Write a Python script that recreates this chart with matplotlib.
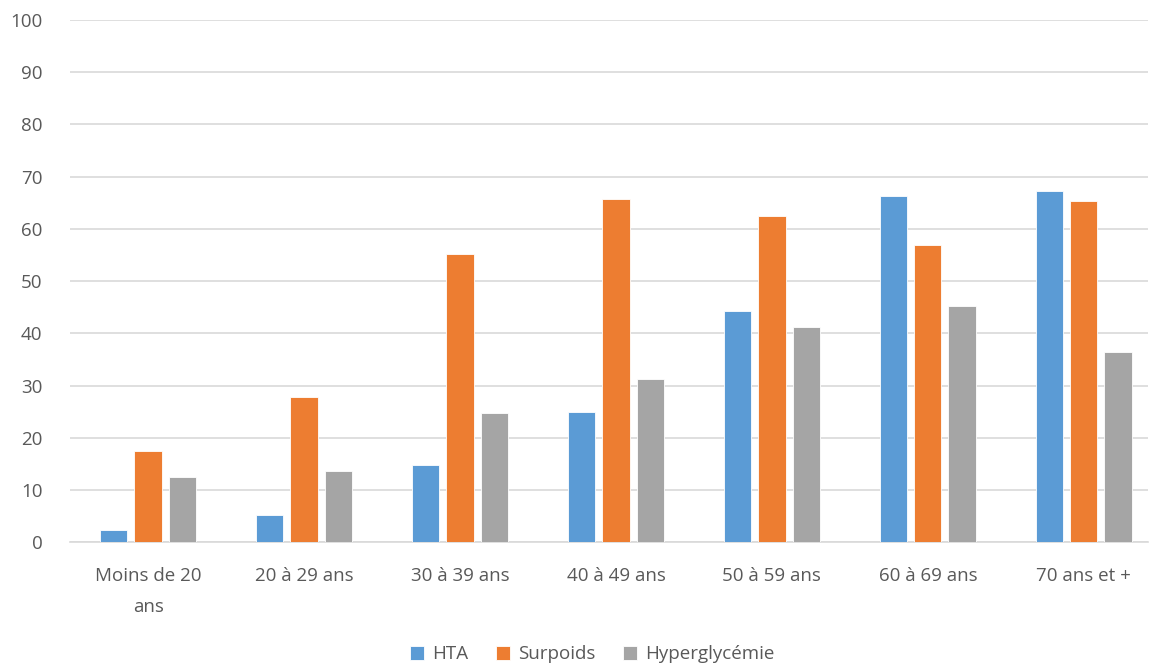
import numpy as np
import matplotlib.pyplot as plt

categories = ["Moins de 20\nans", "20 à 29 ans", "30 à 39 ans", "40 à 49 ans",
              "50 à 59 ans", "60 à 69 ans", "70 ans et +"]
hta = [2.4, 5.3, 14.7, 25.0, 44.3, 66.3, 67.2]
surpoids = [17.5, 27.8, 55.2, 65.8, 62.5, 56.9, 65.3]
hyperglycemie = [12.5, 13.6, 24.7, 31.2, 41.2, 45.2, 36.4]

series = [("HTA", hta, "#5B9BD5"),
          ("Surpoids", surpoids, "#ED7D31"),
          ("Hyperglycémie", hyperglycemie, "#A5A5A5")]

plt.rcParams['font.family'] = ['Open Sans', 'DejaVu Sans']
text_color = "#595959"
fs = 13.5

fig = plt.figure(figsize=(11.5, 6.67), dpi=100)
ax = fig.add_axes([0.061, 0.187, 0.937, 0.783])

x = np.arange(len(categories))
width = 0.175
offsets = [-0.22, 0, 0.22]
for (name, vals, color), off in zip(series, offsets):
    ax.bar(x + off, vals, width, color=color, label=name,
           edgecolor="white", linewidth=0.6, zorder=3)

ax.set_xlim(-0.5, 6.41)
ax.set_ylim(0, 100)
ax.set_yticks(range(0, 101, 10))
ax.set_xticks(x)
ax.set_xticklabels(categories, fontsize=fs, color=text_color, linespacing=1.9)
ax.tick_params(axis='y', labelsize=fs, labelcolor=text_color, length=0, pad=20)
ax.tick_params(axis='x', length=0, pad=18)

ax.grid(axis='y', color="#D9D9D9", linewidth=1.2, zorder=0)
for s in ["top", "right", "left"]:
    ax.spines[s].set_visible(False)
ax.spines["bottom"].set_color("#D9D9D9")
ax.spines["bottom"].set_linewidth(1.2)

fig.legend(loc="lower center", ncol=3, frameon=False, fontsize=fs,
           bbox_to_anchor=(0.515, -0.02), handlelength=0.75, handleheight=0.75,
           handletextpad=0.4, columnspacing=1.5, labelcolor=text_color)

fig.savefig("out.png", dpi=100)
